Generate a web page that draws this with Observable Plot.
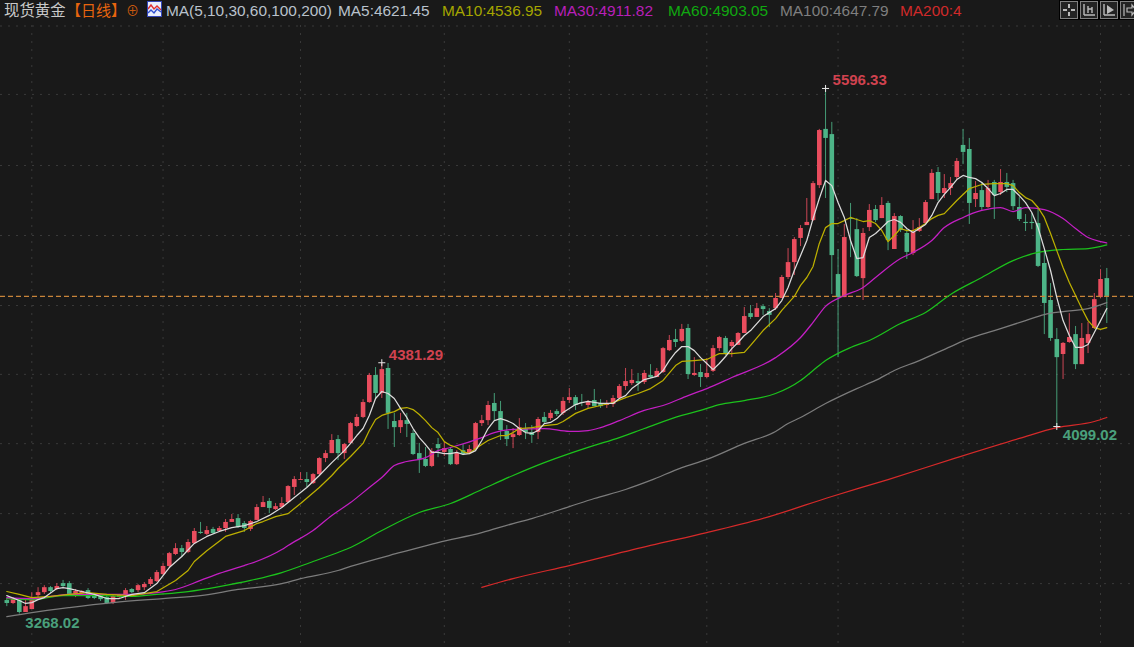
<!DOCTYPE html>
<html lang="zh">
<head>
<meta charset="utf-8">
<title>现货黄金 日线</title>
<script src="https://cdn.jsdelivr.net/npm/d3@7"></script>
<script src="https://cdn.jsdelivr.net/npm/@observablehq/plot@0.6"></script>
<style>
html,body{margin:0;padding:0;background:#191919;width:1134px;height:647px;overflow:hidden}
#head{position:relative;height:25px;width:1134px;font:15.4px "Liberation Sans","Noto Sans CJK SC",sans-serif;white-space:nowrap;overflow:hidden}
#head span{position:absolute;top:2px;line-height:18px}
#head .box{position:absolute;top:1px;width:16px;height:16px;border:1px solid #808080;outline:1px solid #000;background:#232323}
#head .ico{position:absolute;left:147px;top:1px;width:13px;height:14px;background:#e9eefb;border:1px solid #3346b8}
#head svg{display:block;width:100%;height:100%}
#chart svg{display:block}
</style>
</head>
<body>
<div id="head"></div>
<div id="chart"></div>
<script>
const opens=[3328,3315,3328,3275,3288,3350,3363,3385,3377,3403,
3403,3355,3359,3372,3350,3346,3341,3315,3341,3350,
3377,3372,3385,3399,3412,3443,3479,3532,3558,3541,
3580,3630,3621,3643,3634,3647,3674,3691,3669,3643,
3683,3740,3767,3731,3740,3762,3829,3860,3864,3846,
3886,3957,3979,4041,3979,4024,4099,4139,4205,4325,
4245,4356,4121,4094,4125,4068,3979,3953,3922,4019,
3984,3997,3930,3992,3979,3997,4112,4125,4201,4165,
4077,4050,4059,4086,4072,4072,4139,4134,4165,4157,
4214,4227,4205,4192,4214,4201,4192,4196,4223,4276,
4289,4298,4294,4325,4316,4338,4435,4484,4476,4533,
4325,4338,4316,4343,4444,4489,4453,4458,4511,4599,
4582,4630,4608,4621,4666,4759,4825,4932,4989,5011,
5166,5415,5392,4772,4670,5020,4971,4754,4980,5060,
5020,5087,4883,5029,4954,4865,4963,4998,5104,5224,
5131,5153,5202,5344,5326,5104,5144,5069,5180,5135,
5180,5175,5069,5003,5003,4998,4821,4657,4484,4418,
4471,4506,4373,4467,4533,4670,4754];
const closes=[3315,3332,3275,3301,3328,3363,3385,3368,3390,3390,
3355,3368,3368,3337,3337,3332,3315,3346,3350,3372,
3363,3394,3399,3421,3452,3479,3536,3558,3541,3585,
3634,3625,3638,3625,3647,3674,3687,3651,3647,3678,
3740,3762,3736,3744,3758,3833,3864,3864,3851,3886,
3957,3979,4037,3979,4019,4112,4139,4205,4325,4245,
4351,4157,4094,4125,4108,3975,3953,3922,3988,4001,
4001,3930,3979,3975,3997,4112,4125,4192,4165,4081,
4041,4063,4094,4072,4059,4130,4117,4157,4152,4210,
4227,4192,4201,4205,4187,4187,4201,4223,4276,4298,
4303,4289,4334,4316,4343,4444,4480,4471,4529,4329,
4334,4316,4334,4444,4493,4418,4471,4511,4586,4582,
4621,4617,4591,4666,4759,4825,4927,4976,5003,5175,
5410,5375,4856,4670,4936,5016,4763,4954,5056,5011,
5078,4923,5029,4967,4870,4958,4980,5091,5220,5131,
5153,5175,5273,5313,5087,5131,5069,5153,5122,5180,
5158,5073,5016,4998,4998,4808,4644,4489,4404,4467,
4493,4373,4489,4506,4661,4750,4675];
const highs=[3337,3341,3332,3328,3363,3385,3394,3390,3403,3417,
3412,3377,3372,3381,3359,3355,3350,3350,3355,3381,
3381,3399,3408,3430,3461,3492,3541,3580,3572,3598,
3647,3674,3656,3652,3656,3687,3709,3709,3678,3683,
3753,3789,3780,3758,3784,3837,3877,3895,3895,3891,
3961,3992,4063,4059,4024,4117,4152,4218,4334,4360,
4381.29,4378,4157,4157,4157,4081,4024,4006,4001,4046,
4028,4006,3992,4019,4015,4117,4148,4210,4245,4210,
4103,4090,4134,4112,4103,4139,4161,4170,4174,4227,
4267,4236,4241,4214,4263,4218,4214,4236,4285,4356,
4351,4334,4347,4373,4356,4449,4502,4529,4551,4551,
4404,4373,4400,4458,4498,4498,4480,4515,4626,4635,
4644,4639,4621,4688,4768,4887,4936,4989,5109,5184,
5415,5596.33,5446,4883,4994,5087,5020,4976,5082,5078,
5113,5096,5042,5033,4971,5011,5020,5100,5237,5246,
5215,5202,5286,5415,5375,5184,5180,5189,5189,5237,
5220,5189,5113,5038,5042,5060,4878,4732,4533,4471,
4599,4542,4555,4560,4688,4794,4799];
const lows=[3301,3310,3268.02,3275,3288,3341,3355,3359,3372,3385,
3350,3341,3350,3332,3332,3324,3310,3310,3337,3328,
3359,3363,3372,3390,3408,3439,3474,3527,3518,3536,
3576,3621,3616,3621,3630,3630,3674,3647,3630,3634,
3683,3740,3713,3727,3736,3758,3793,3860,3829,3842,
3882,3939,3979,3948,3953,4019,4094,4134,4201,4223,
4223,4086,4006,4068,4050,3970,3891,3917,3917,3961,
3966,3926,3926,3970,3975,3992,4099,4103,4125,4037,
4010,4001,4055,4041,4024,4041,4108,4125,4143,4148,
4201,4170,4187,4179,4187,4179,4179,4183,4218,4258,
4280,4254,4285,4312,4316,4334,4431,4449,4471,4307,
4321,4272,4312,4338,4431,4413,4404,4458,4511,4573,
4582,4591,4537,4613,4666,4750,4768,4896,4989,5007,
5153,5109,4684,4404,4670,4847,4759,4657,4963,5002,
5020,4878,4883,4958,4839,4856,4958,4994,5104,5096,
5109,5122,5189,5259,4994,5069,5056,5065,5016,5122,
5135,5056,5007,4963,4971,4803,4506,4476,4099.02,4307,
4467,4351,4373,4422,4529,4666,4555];

const ma5Idx=[0,2,3,4,5,6,8,9,10,12,14,16,18,20,22,24,26,28,30,32,34,36,38,40,42,44,46,48,50,52,54,55,56,57,58,59,60,61,62,63,64,65,66,67,68,69,70,71,72,73,74,75,76,77,78,79,80,81,82,83,84,85,86,87,88,89,90,91,92,93,95,97,98,99,100,102,104,105,106,107,108,109,110,111,112,113,114,115,116,117,118,119,120,121,122,123,124,125,126,127,128,129,130,131,132,133,134,135,136,137,138,139,140,141,142,143,144,145,146,147,148,149,150,151,152,153,154,155,156,157,158,159,160,161,162,163,164,165,166,167,168,169,170,171,172,173,174,175,176];
const ma5Val=[3350,3328,3315,3319,3332,3341,3381,3385,3381,3368,3355,3337,3337,3355,3363,3403,3474,3523,3581,3612,3634,3651,3660,3678,3705,3740,3784,3829,3882,3939,3992,4024,4059,4090,4148,4223,4254,4245,4223,4179,4139,4090,4050,4019,3984,3984,3979,3979,3984,3975,3979,3992,4037,4090,4125,4134,4125,4112,4090,4072,4068,4081,4112,4117,4134,4161,4179,4196,4205,4210,4201,4201,4223,4236,4267,4307,4321,4347,4391,4427,4453,4453,4435,4404,4378,4351,4378,4409,4444,4471,4502,4524,4555,4586,4604,4621,4657,4715,4790,4856,4923,5020,5109,5189,5166,5091,5025,4923,4843,4847,4936,4954,4980,5007,5016,5003,4976,4958,4976,4994,5034,5091,5127,5158,5193,5211,5202,5197,5180,5153,5122,5131,5149,5149,5122,5091,5047,4980,4887,4790,4670,4568,4502,4449,4449,4462,4515,4568,4621.45];
const ma10Idx=[0,2,4,7,10,13,16,20,24,27,29,30,32,35,38,40,41,43,45,47,50,52,53,55,57,58,59,60,61,62,63,64,65,66,67,68,69,70,71,72,73,74,75,76,77,79,80,81,82,84,86,88,89,91,93,95,97,99,101,103,105,107,108,110,112,113,114,116,118,119,121,123,124,125,126,127,128,129,130,131,132,133,134,135,136,137,138,139,140,141,142,143,144,145,146,147,148,149,150,152,154,156,158,160,161,162,163,164,165,166,167,168,169,170,171,172,173,174,175,176];
const ma10Val=[3368,3355,3341,3346,3355,3363,3355,3350,3368,3417,3461,3501,3549,3612,3638,3669,3678,3700,3713,3758,3829,3882,3913,3966,4024,4081,4130,4148,4157,4165,4179,4183,4174,4152,4125,4094,4072,4032,4015,4006,3988,3979,4001,4019,4037,4059,4059,4072,4090,4094,4103,4108,4121,4157,4179,4192,4205,4227,4245,4267,4303,4369,4387,4391,4396,4409,4422,4422,4427,4458,4524,4577,4613,4644,4675,4724,4759,4808,4910,4980,4998,4998,5011,5025,5016,5007,5011,4998,4967,4918,4945,4976,4967,4967,4980,4998,5020,5034,5042,5100,5153,5171,5175,5175,5166,5135,5113,5100,5069,5025,4954,4878,4803,4737,4679,4622,4568,4537,4529,4536.95];
const ma30Idx=[0,4,7,10,15,20,24,27,31,34,38,39,44,45,49,52,55,58,60,62,64,67,69,71,76,78,81,86,90,93,95,98,102,105,109,112,116,123,127,129,131,134,137,139,143,145,148,150,153,156,159,161,163,166,169,171,173,175,176];
const ma30Val=[3341,3337,3346,3355,3355,3355,3363,3377,3417,3448,3483,3492,3554,3572,3638,3705,3762,3829,3873,3926,3944,3961,3992,4006,4050,4072,4086,4090,4077,4081,4094,4125,4170,4192,4236,4267,4316,4404,4493,4560,4631,4679,4715,4759,4843,4870,4923,4980,5025,5056,5069,5051,5069,5060,5020,4976,4936,4918,4911.82];
const ma60Idx=[0,4,9,15,20,24,29,34,39,44,49,53,55,60,66,71,76,81,86,90,94,98,102,108,111,114,118,123,127,129,131,135,138,143,147,151,156,161,165,169,173,176];
const ma60Val=[3337,3332,3350,3350,3346,3355,3368,3390,3417,3452,3501,3541,3563,3638,3718,3758,3820,3882,3939,3979,4015,4050,4090,4148,4170,4196,4214,4245,4303,4347,4391,4449,4480,4555,4604,4684,4759,4834,4870,4883,4887,4903.05];
const ma100Idx=[0,4,10,17,25,31,37,44,47,53,55,63,69,76,81,84,90,94,99,103,108,112,118,123,125,127,131,136,139,142,146,151,154,158,163,166,169,173,176];
const ma100Val=[3257,3275,3297,3319,3337,3350,3377,3403,3425,3461,3479,3541,3585,3629,3669,3691,3744,3780,3820,3860,3917,3953,4024,4077,4112,4139,4201,4267,4303,4347,4391,4453,4489,4524,4568,4595,4608,4621,4647.79];
const ma200Idx=[76,81,90,103,112,122,132,141,152,162,168,174,176];
const ma200Val=[3386,3425,3483,3572,3629,3700,3789,3864,3961,4046,4094,4121,4139];

const gridPrices=[5873,5570,5255,4945,4635,4330,4023,3713,3403];
const monthIdx=[4,25,47,70,90,112,133,153,175];
const lastPrice=[4675];
const peaks=[{i:131,v:5596.33,t:"5596.33"},{i:60,v:4381.29,t:"4381.29"}];
const troughs=[{i:168,v:4099.02,t:"4099.02"},{i:2,v:3268.02,t:"3268.02"}];
const crossed=[peaks[0],peaks[1],troughs[0]];

const RED="#e94d5e",GREEN="#4db487";
const candles=opens.map((o,i)=>({i,o,c:closes[i],h:highs[i],l:lows[i]}));
const up=candles.filter(d=>d.c>=d.o), down=candles.filter(d=>d.c<d.o);
const series=(idx,val)=>idx.map((i,k)=>({i,v:val[k]}));
const maLine=(idx,val,stroke,curve="linear")=>Plot.line(series(idx,val),{x:"i",y:"v",stroke,strokeWidth:1.25,curve});
const candleMarks=(data,color)=>[
  Plot.ruleX(data,{x:"i",y1:"l",y2:"h",stroke:color,strokeWidth:1,strokeOpacity:.85}),
  Plot.ruleX(data,{x:"i",y1:"o",y2:"c",stroke:color,strokeWidth:4.6})
];
const chart=Plot.plot({
  width:1134,height:622,margin:0,
  style:{background:"#191919",fontFamily:'"Liberation Sans",sans-serif',overflow:"visible"},
  x:{domain:[-1.008,180.43],range:[0,1134],axis:null},
  y:{domain:[3120,5875.25],range:[622,0],axis:null},
  marks:[
    Plot.ruleY(gridPrices,{stroke:"#3a3a3a",strokeDasharray:"2 6"}),
    Plot.ruleX(monthIdx,{stroke:"#3a3a3a",strokeDasharray:"2 6"}),
    ...candleMarks(up,RED),
    ...candleMarks(down,GREEN),
    Plot.ruleY(lastPrice,{stroke:"#c8843a",strokeWidth:1.2,strokeDasharray:"5 3"}),
    maLine(ma200Idx,ma200Val,"#d62a2a","monotone-x"),
    maLine(ma100Idx,ma100Val,"#7c7c7c","monotone-x"),
    maLine(ma60Idx,ma60Val,"#1cc21c","monotone-x"),
    maLine(ma30Idx,ma30Val,"#c41fc4","monotone-x"),
    maLine(ma10Idx,ma10Val,"#bdb000"),
    maLine(ma5Idx,ma5Val,"#dcdcdc"),
    Plot.dot(crossed,{x:"i",y:"v",symbol:"plus",r:2.4,stroke:"#e8e8e8",strokeWidth:1}),
    Plot.text(peaks,{x:"i",y:"v",text:"t",textAnchor:"start",dx:7,dy:-8,fill:"#d0424f",fontSize:15,fontWeight:"bold"}),
    Plot.text(troughs,{x:"i",y:"v",text:"t",textAnchor:"start",dx:6,dy:9,fill:"#4aa07c",fontSize:15,fontWeight:"bold"})
  ]
});
document.getElementById("chart").append(chart);

const headItems=[
  ["现货黄金",4,"#c9c9c9",15.4],["【日线】",66,"#e8650e",15],["⊕",126,"#c8580e",13],
  ["MA(5,10,30,60,100,200)",166,"#b9c2cc",15.4],["MA5:4621.45",338,"#b9c2cc",15.4],
  ["MA10:4536.95",442,"#a5a500",15.4],["MA30:4911.82",554,"#b81fb8",15.4],
  ["MA60:4903.05",668,"#10a810",15.4],["MA100:4647.79",780,"#7f7f7f",15.4],["MA200:4",900,"#d02a2a",15.4]
];
const head=document.getElementById("head");
for(const [t,left,color,size] of headItems){
  const s=document.createElement("span");
  s.textContent=t;s.style.left=left+"px";s.style.color=color;s.style.fontSize=size+"px";head.append(s);
}
const ico=document.createElement("div");ico.className="ico";
ico.innerHTML='<svg viewBox="0 0 13 14"><polyline points="0,7 3,3 6,7 9,4 13,8" fill="none" stroke="#e03030" stroke-width="1.4"/><polyline points="0,11 3,8 6,11 9,7 13,10" fill="none" stroke="#3050d0" stroke-width="1.4"/></svg>';
head.append(ico);
const toolIcons=[
  [1060,'<path d="M8 2v4M8 10v4M2 8h4M10 8h4" stroke="#bbb" stroke-width="2"/>'],
  [1080,'<path d="M3 2v11M3 13h11M7 4v7M11 5v6M7 7h4" stroke="#bbb" stroke-width="1.4" fill="none"/>'],
  [1100,'<path d="M3 2v11M3 13h11" stroke="#bbb" stroke-width="1.4" fill="none"/><path d="M6 3l7 5-7 4z" fill="#bbb"/>'],
  [1120,'<path d="M3 2v12M6 6h5V3l4 5-4 5v-3H6z" stroke="#bbb" stroke-width="1.2" fill="none"/>']
];
for(const [left,path] of toolIcons){
  const b=document.createElement("div");b.className="box";b.style.left=left+"px";
  b.innerHTML='<svg viewBox="0 0 16 16">'+path+'</svg>';head.append(b);
}
</script>
</body>
</html>
